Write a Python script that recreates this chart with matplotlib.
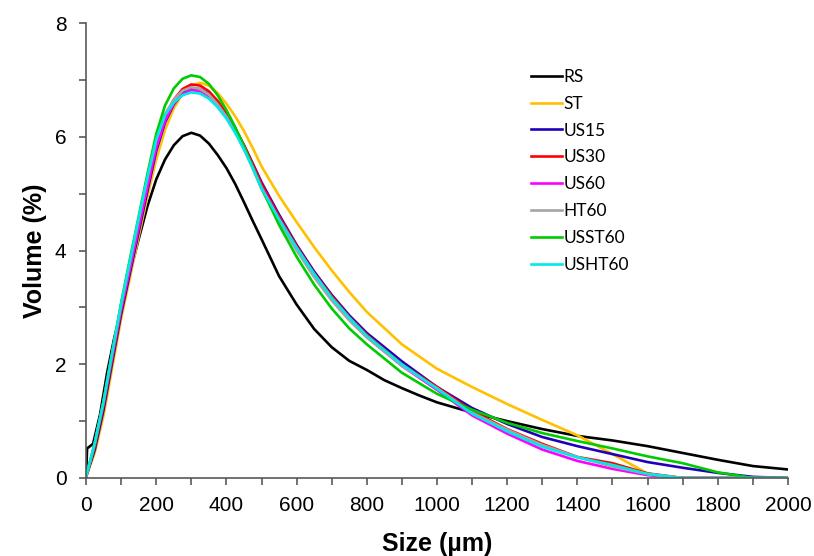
import matplotlib
matplotlib.use('Agg')
import matplotlib.pyplot as plt
from matplotlib.ticker import MultipleLocator

# particle size grid (um)
size = [0, 25, 50, 75, 100, 125, 150, 175, 200, 225, 250, 275, 300, 325, 350, 375, 400, 425,
        450, 475, 500, 550, 600, 650, 700, 750, 800, 900, 1000, 1100, 1200, 1300, 1400, 1500,
        1600, 1700, 1800, 1900, 2000]

# RS has its own grid (small jump at the origin)
size_rs = [0, 3, 20, 40, 60, 80, 100, 125, 150, 175, 200, 225, 250, 275, 300, 325, 350, 375,
           400, 425, 450, 475, 500, 550, 600, 650, 700, 750, 800, 850, 900, 950, 1000, 1100,
           1200, 1300, 1400, 1500, 1600, 1700, 1800, 1900, 2000]
rs = [0.0, 0.52, 0.6, 1.12, 1.85, 2.45, 2.95, 3.6, 4.2, 4.78, 5.25, 5.6, 5.85, 6.01, 6.07,
      6.02, 5.88, 5.68, 5.45, 5.17, 4.85, 4.52, 4.2, 3.55, 3.05, 2.62, 2.3, 2.06, 1.9, 1.72,
      1.58, 1.45, 1.33, 1.15, 1.0, 0.86, 0.74, 0.66, 0.56, 0.44, 0.32, 0.21, 0.15]

st = [0.02, 0.45, 1.1, 1.95, 2.8, 3.52, 4.25, 4.95, 5.6, 6.12, 6.5, 6.76, 6.9, 6.95, 6.9,
      6.77, 6.58, 6.36, 6.1, 5.8, 5.48, 4.96, 4.5, 4.06, 3.65, 3.27, 2.92, 2.35, 1.92, 1.6,
      1.3, 1.02, 0.75, 0.42, 0.08, 0.0, 0.0, 0.0, 0.0]
us15 = [0.02, 0.5, 1.2, 2.05, 2.88, 3.6, 4.33, 5.05, 5.75, 6.25, 6.57, 6.76, 6.85, 6.84, 6.75,
        6.6, 6.4, 6.14, 5.85, 5.53, 5.2, 4.63, 4.1, 3.63, 3.22, 2.86, 2.55, 2.05, 1.6, 1.23,
        0.95, 0.72, 0.56, 0.42, 0.28, 0.18, 0.09, 0.02, 0.0]
us30 = [0.02, 0.55, 1.28, 2.12, 2.95, 3.68, 4.42, 5.15, 5.85, 6.35, 6.65, 6.84, 6.92, 6.9, 6.8,
        6.63, 6.42, 6.15, 5.85, 5.52, 5.17, 4.6, 4.08, 3.6, 3.2, 2.83, 2.52, 2.0, 1.6, 1.18,
        0.86, 0.6, 0.37, 0.26, 0.08, 0.0, 0.0, 0.0, 0.0]
us60 = [0.02, 0.6, 1.32, 2.15, 2.97, 3.68, 4.4, 5.12, 5.8, 6.28, 6.58, 6.75, 6.82, 6.8, 6.71,
        6.56, 6.36, 6.1, 5.8, 5.47, 5.12, 4.56, 4.05, 3.57, 3.15, 2.79, 2.48, 1.97, 1.55, 1.1,
        0.78, 0.5, 0.3, 0.16, 0.05, 0.0, 0.0, 0.0, 0.0]
ht60 = [0.02, 0.62, 1.35, 2.22, 3.05, 3.8, 4.55, 5.28, 5.95, 6.4, 6.65, 6.81, 6.87, 6.84, 6.74,
        6.57, 6.35, 6.08, 5.78, 5.44, 5.08, 4.52, 4.0, 3.53, 3.12, 2.77, 2.47, 1.97, 1.58, 1.15,
        0.85, 0.58, 0.37, 0.2, 0.07, 0.0, 0.0, 0.0, 0.0]
usst60 = [0.02, 0.6, 1.35, 2.22, 3.08, 3.85, 4.6, 5.35, 6.05, 6.55, 6.85, 7.02, 7.08, 7.05, 6.93,
          6.73, 6.47, 6.17, 5.83, 5.47, 5.1, 4.45, 3.89, 3.4, 2.98, 2.63, 2.35, 1.85, 1.48, 1.2,
          0.97, 0.79, 0.65, 0.52, 0.38, 0.26, 0.1, 0.0, 0.0]
usht60 = [0.02, 0.62, 1.35, 2.22, 3.06, 3.82, 4.58, 5.3, 5.95, 6.38, 6.6, 6.73, 6.78, 6.76, 6.67,
          6.52, 6.32, 6.07, 5.78, 5.45, 5.1, 4.55, 4.05, 3.59, 3.17, 2.82, 2.5, 2.0, 1.57, 1.13,
          0.82, 0.55, 0.36, 0.23, 0.07, 0.0, 0.0, 0.0, 0.0]

fig = plt.figure(figsize=(8.14, 5.56), dpi=100)
ax = fig.add_axes([0.1057, 0.1403, 0.8623, 0.8183])

lw = 1.9
ax.plot(size_rs, rs, color='black', lw=lw, label='RS')
ax.plot(size, st, color='#FFC000', lw=lw, label='ST')
ax.plot(size, us15, color='#2200BB', lw=lw, label='US15')
ax.plot(size, us30, color='#FF0000', lw=lw, label='US30')
ax.plot(size, us60, color='#FF00FF', lw=lw, label='US60')
ax.plot(size, ht60, color='#A6A6A6', lw=lw, label='HT60')
ax.plot(size, usst60, color='#00CC00', lw=lw, label='USST60')
ax.plot(size, usht60, color='#00E8E8', lw=lw, label='USHT60')

ax.set_xlim(0, 2000)
ax.set_ylim(0, 8)
ax.xaxis.set_major_locator(MultipleLocator(200))
ax.xaxis.set_minor_locator(MultipleLocator(100))
ax.yaxis.set_major_locator(MultipleLocator(2))
ax.yaxis.set_minor_locator(MultipleLocator(1))

for s in ['top', 'right']:
    ax.spines[s].set_visible(False)
for s in ['left', 'bottom']:
    ax.spines[s].set_color('#595959')
    ax.spines[s].set_linewidth(1.2)

ax.tick_params(which='both', direction='out', length=5, width=1.2, color='#595959')
ax.tick_params(axis='x', labelsize=15, labelcolor='black', pad=8)
ax.tick_params(axis='y', labelsize=15, labelcolor='black', pad=9)
for lab in ax.get_xticklabels() + ax.get_yticklabels():
    lab.set_family('Liberation Sans')

ax.set_xlabel('Size (µm)', fontsize=18, fontweight='bold', family='Liberation Sans', labelpad=12)
ax.set_ylabel('Volume (%)', fontsize=18, fontweight='bold', family='Liberation Sans', labelpad=6)

leg = ax.legend(loc='upper left', bbox_to_anchor=(0.612, 0.934), frameon=False,
                prop={'family': 'Lato', 'size': 12.5}, handlelength=1.75,
                handletextpad=0.1, labelspacing=0.63)

fig.savefig('out.png', dpi=100)
